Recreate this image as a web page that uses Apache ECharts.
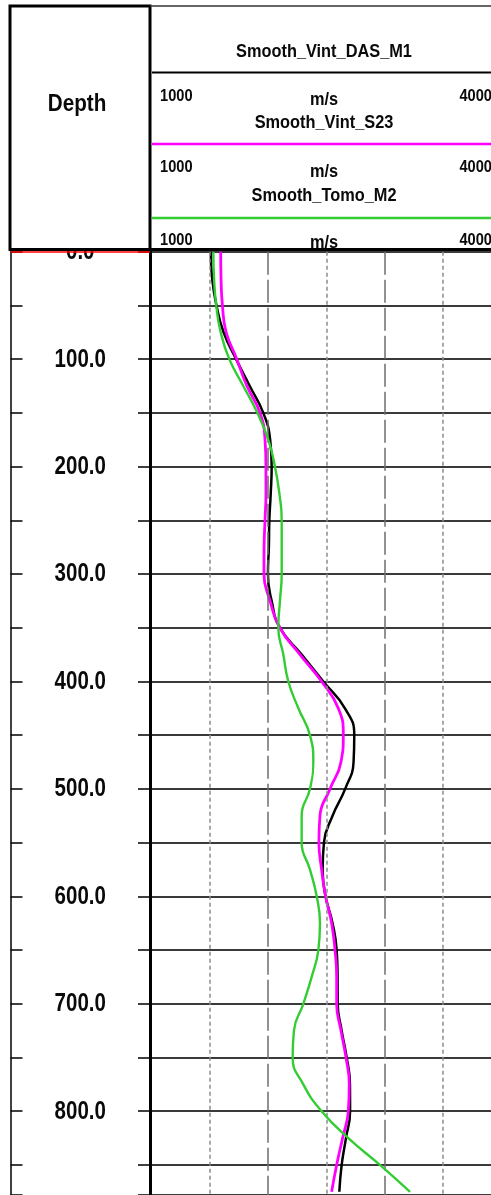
<!DOCTYPE html>
<html>
<head>
<meta charset="utf-8">
<script src="https://cdn.jsdelivr.net/npm/echarts@6/dist/echarts.min.js"></script>
<style>
  html, body { margin: 0; padding: 0; background: #fff; overflow: hidden; }
  #chart { width: 520px; height: 1195px; }
</style>
</head>
<body>
<div id="chart"></div>
<script>
// Depth samples (m) shared by the three velocity logs
const depths = [0, 25, 50, 75, 100, 125, 150, 175, 200, 225, 250, 275, 300, 325, 350, 375, 400, 425,
                450, 475, 500, 525, 550, 575, 600, 625, 650, 675, 700, 725, 750, 775, 800, 825, 850, 875];

// Interval velocity logs (m/s)
const vintDasM1 = [1508, 1520, 1557, 1618, 1725, 1842, 1958, 2017, 2030, 2022, 2010, 2006, 1998, 2030, 2100, 2287, 2473, 2658,
                   2738, 2732, 2660, 2552, 2478, 2467, 2492, 2552, 2587, 2595, 2596, 2630, 2673, 2701, 2702, 2667, 2630, 2610];
const vintS23   = [1593, 1596, 1608, 1640, 1731, 1818, 1930, 1973, 1981, 1981, 1973, 1965, 1964, 2016, 2100, 2273, 2458, 2601,
                   2644, 2624, 2530, 2444, 2435, 2458, 2492, 2544, 2573, 2587, 2587, 2624, 2667, 2695, 2687, 2638, 2587, 2544];
const tomoM2    = [1530, 1536, 1555, 1593, 1667, 1787, 1907, 2001, 2058, 2096, 2116, 2116, 2116, 2101, 2087, 2130, 2173, 2259,
                   2358, 2387, 2358, 2287, 2287, 2358, 2416, 2444, 2430, 2373, 2301, 2221, 2210, 2301, 2458, 2687, 2958, 3216];

const curveNames  = ['Smooth_Vint_DAS_M1', 'Smooth_Vint_S23', 'Smooth_Tomo_M2'];
const curveColors = ['#000000', '#ff00ff', '#33cc33'];
const curveWidths = [2.5, 2.8, 2.4];
const curveValues = [vintDasM1, vintS23, tomoM2];

// Track scale
const scaleMin = 1000;
const scaleMax = 4000;
const scaleUnit = 'm/s';
const dottedGrid = [1500, 2500, 3500];
const dashedGrid = [2000, 3000];

// Depth track
const depthTitle = 'Depth';
const depthLabels = [0, 100, 200, 300, 400, 500, 600, 700, 800];
const depthMax = 878;

// Layout
const TOP = 251.7;
const TRACK_LEFT = 151.5;
const TRACK_W = 350;
const DEPTH_LEFT = 10.5;
const DEPTH_RIGHT = 150;
const FONT = '"Liberation Sans", Arial, sans-serif';
const SQUEEZE = 0.86;

const chart = echarts.init(document.getElementById('chart'));

// Header: one block per curve (name, coloured rule, scale row)
const titleY = [51.5, 122.5, 196];
const ruleY  = [72.5, 144, 218];
const numY   = [96.3, 167.3, 240.5];
const unitY  = [99.3, 171.3, 242.5];
const TX = 324;

const headerEls = [
  { type: 'rect', z: 100, shape: { x: 10, y: 6, width: 140, height: 243.5 },
    style: { fill: '#fff', stroke: '#000', lineWidth: 3 } },
  { type: 'line', z: 100, shape: { x1: 150, y1: 6, x2: 520, y2: 6 },
    style: { stroke: '#333', lineWidth: 1.5 } },
  { type: 'line', z: 101, shape: { x1: 9, y1: 249.5, x2: 520, y2: 249.5 },
    style: { stroke: '#000', lineWidth: 3 } },
  { type: 'text', z: 101, x: 77, y: 104.5, scaleX: SQUEEZE,
    style: { text: depthTitle, font: 'bold 24px ' + FONT, fill: '#0a0a0a', align: 'center', verticalAlign: 'middle' } }
];

curveNames.forEach(function (name, i) {
  headerEls.push(
    { type: 'text', z: 101, x: TX, y: titleY[i], scaleX: SQUEEZE,
      style: { text: name, font: 'bold 19px ' + FONT, fill: '#0a0a0a', align: 'center', verticalAlign: 'middle' } },
    { type: 'line', z: 101, shape: { x1: 152, y1: ruleY[i], x2: 520, y2: ruleY[i] },
      style: { stroke: curveColors[i], lineWidth: i === 0 ? 1.8 : 2.4 } },
    { type: 'text', z: 101, x: 160, y: numY[i], scaleX: SQUEEZE,
      style: { text: String(scaleMin), font: 'bold 17px ' + FONT, fill: '#0a0a0a', align: 'left', verticalAlign: 'middle' } },
    { type: 'text', z: 101, x: TX, y: unitY[i], scaleX: SQUEEZE,
      style: { text: scaleUnit, font: 'bold 19px ' + FONT, fill: '#0a0a0a', align: 'center', verticalAlign: 'middle' } },
    { type: 'text', z: 101, x: 492, y: numY[i], scaleX: SQUEEZE,
      style: { text: String(scaleMax), font: 'bold 17px ' + FONT, fill: '#0a0a0a', align: 'right', verticalAlign: 'middle' } }
  );
});

const gridLines = dottedGrid.map(function (v) {
  return { xAxis: v, lineStyle: { type: [4, 3], color: '#8c8c8c', width: 1.5 } };
}).concat(dashedGrid.map(function (v) {
  return { xAxis: v, lineStyle: { type: [23, 5], color: '#6e6e6e', width: 1.5 } };
}));

const curveSeries = curveNames.map(function (name, i) {
  return {
    name: name,
    type: 'line',
    xAxisIndex: 0,
    yAxisIndex: 0,
    z: 3 + i,
    data: depths.map(function (d, k) { return [curveValues[i][k], d]; }),
    showSymbol: false,
    smooth: 0.5,
    lineStyle: { color: curveColors[i], width: curveWidths[i] },
    silent: true
  };
});

chart.setOption({
  animation: false,
  backgroundColor: '#fff',
  grid: [
    { left: TRACK_LEFT, top: TOP, width: TRACK_W, bottom: 0 },
    { left: DEPTH_LEFT, top: TOP, width: DEPTH_RIGHT - DEPTH_LEFT, bottom: 0 }
  ],
  xAxis: [
    { gridIndex: 0, type: 'value', min: scaleMin, max: scaleMax, interval: 500,
      axisLine: { show: false }, axisTick: { show: false }, axisLabel: { show: false }, splitLine: { show: false } },
    { gridIndex: 1, type: 'value', min: 0, max: 1, show: false }
  ],
  yAxis: [
    { gridIndex: 0, type: 'value', inverse: true, min: 0, max: depthMax, interval: 50,
      axisLine: { show: false }, axisTick: { show: false }, axisLabel: { show: false },
      splitLine: { show: true, lineStyle: { color: '#3a3a3a', width: 1.8 } } },
    { gridIndex: 1, type: 'value', inverse: true, min: 0, max: depthMax, interval: 50, position: 'left',
      axisLine: { show: true, lineStyle: { color: '#000', width: 1.5 } },
      axisTick: { show: true, inside: true, length: 12, lineStyle: { color: '#000', width: 1.5 } },
      axisLabel: { show: false }, splitLine: { show: false } },
    { gridIndex: 1, type: 'value', inverse: true, min: 0, max: depthMax, interval: 50, position: 'right',
      axisLine: { show: true, lineStyle: { color: '#000', width: 3 } },
      axisTick: { show: true, inside: true, length: 12, lineStyle: { color: '#000', width: 1.5 } },
      axisLabel: { show: false }, splitLine: { show: false } }
  ],
  series: [
    {
      name: 'grid',
      type: 'line',
      xAxisIndex: 0,
      yAxisIndex: 0,
      z: 1,
      data: [],
      silent: true,
      markLine: { silent: true, symbol: 'none', label: { show: false }, animation: false, data: gridLines }
    }
  ].concat(curveSeries).concat([
    {
      name: 'depth',
      type: 'custom',
      xAxisIndex: 1,
      yAxisIndex: 1,
      silent: true,
      data: depthLabels.map(function (d) { return [0.5, d]; }),
      renderItem: function (params, api) {
        const p = api.coord([api.value(0), api.value(1)]);
        return {
          type: 'text',
          x: p[0], y: p[1] + 0.5,
          scaleX: 0.82,
          style: { text: api.value(1).toFixed(1), font: 'bold 25px ' + FONT, fill: '#0a0a0a',
                   align: 'center', verticalAlign: 'middle' }
        };
      },
      markLine: { silent: true, symbol: 'none', label: { show: false }, animation: false,
                  lineStyle: { color: '#ff0000', width: 1.5, type: 'solid' }, data: [{ yAxis: 0 }] }
    }
  ]),
  graphic: { elements: headerEls }
});
</script>
</body>
</html>
